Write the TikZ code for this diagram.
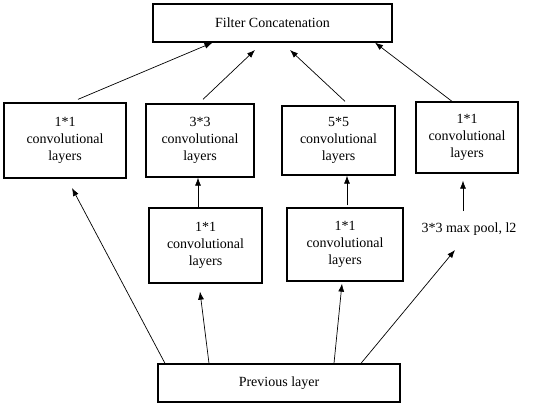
\documentclass[tikz,border=0pt]{standalone}
\usepackage{fontspec}
\setmainfont{Liberation Serif}
\usetikzlibrary{arrows.meta, positioning, calc}

\begin{document}
\begin{tikzpicture}[
        x=1pt, y=-1pt,
        >={Latex[length=8pt,width=6pt]},
        box/.style={draw, line width=1.3pt, align=center, inner sep=2pt,
                    font=\fontsize{14}{17}\selectfont},
        link/.style={->, line width=0.7pt}
    ]
        \useasboundingbox (0,0) rectangle (550,407);

        \node[box, minimum width=239pt, minimum height=38pt] (concat) at (272.5,23)  {Filter Concatenation};
        \node[box, minimum width=122pt, minimum height=75pt] (convA)  at (65,140.5)  {1*1\\convolutional\\layers};
        \node[box, minimum width=108pt, minimum height=73pt] (convB)  at (200,140.5) {3*3\\convolutional\\layers};
        \node[box, minimum width=113pt, minimum height=69pt] (convC)  at (338.5,140.5) {5*5\\convolutional\\layers};
        \node[box, minimum width=102pt, minimum height=71pt] (convD)  at (467,137.5) {1*1\\convolutional\\layers};
        \node[box, minimum width=113pt, minimum height=75pt] (redB)   at (205.5,245.5) {1*1\\convolutional\\layers};
        \node[box, minimum width=116pt, minimum height=73pt] (redC)   at (345,244.5) {1*1\\convolutional\\layers};
        \node[font=\fontsize{14}{17}\selectfont] (pool) at (469,229) {3*3 max pool, l2};
        \node[box, minimum width=242pt, minimum height=38pt] (prev)   at (279,383)   {Previous layer};

        % free ends of the arrows that stop short
        \coordinate (tipB) at (255,50);
        \coordinate (tipC) at (290,50);
        \coordinate (tipA) at (72,188);
        \coordinate (tipP) at (455,250);

        % into the concatenation
        \draw[link] ([xshift=13pt,yshift=3pt]convA.north) -- ([xshift=-60pt]concat.south);
        \draw[link] ([xshift=3pt,yshift=4pt]convB.north) -- (tipB);
        \draw[link] ([xshift=6.5pt,yshift=4pt]convC.north) -- (tipC);
        \draw[link] ([xshift=-15pt]convD.north) -- ([xshift=102.5pt]concat.south);

        % reductions to the large filters
        \draw[link] ([xshift=-7.5pt]redB.north) -- ([xshift=-2pt]convB.south);
        \draw[link] ([xshift=2pt,yshift=2pt]redC.north) -- ([xshift=8.5pt]convC.south);
        \draw[link] ([xshift=-6pt,yshift=8pt]pool.north) -- ([xshift=-4pt,yshift=-7pt]convD.south);

        % out of the previous layer
        \draw[link] ([xshift=-114pt]prev.north) -- (tipA);
        \draw[link] ([xshift=-70pt]prev.north) -- ([xshift=-5.5pt,yshift=-8pt]redB.south);
        \draw[link] ([xshift=55pt]prev.north) -- ([xshift=-3pt,yshift=-2pt]redC.south);
        \draw[link] ([xshift=82pt]prev.north) -- (tipP);
    \end{tikzpicture}
\end{document}
